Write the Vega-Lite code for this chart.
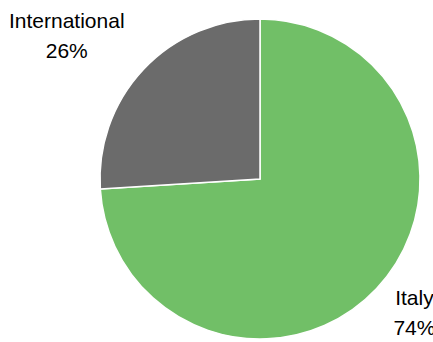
{
  "$schema": "https://vega.github.io/schema/vega-lite/v6.json",
  "width": 346,
  "height": 326,
  "autosize": {"type": "none"},
  "padding": {"left": 87, "top": 16, "right": 0, "bottom": 0},
  "background": "white",
  "view": {"stroke": null},
  "data": {"values": [
    {"market": "Italy", "share": 74},
    {"market": "International", "share": 26}
  ]},
  "transform": [
    {"calculate": "datum.market + '\\n' + datum.share + '%'", "as": "label"}
  ],
  "encoding": {
    "theta": {"field": "share", "type": "quantitative", "stack": true},
    "order": {"field": "share", "type": "quantitative", "sort": "descending"}
  },
  "layer": [
    {
      "mark": {"type": "arc", "outerRadius": 160, "stroke": "white", "strokeWidth": 1.5},
      "encoding": {
        "color": {"field": "market", "type": "nominal",
          "scale": {"domain": ["Italy", "International"], "range": ["#71BF67", "#6B6B6B"]},
          "legend": null}
      }
    },
    {
      "mark": {"type": "text", "radius": 239, "dx": -19, "dy": 6.5, "lineBreak": "\n",
        "font": "Liberation Sans, Arial, sans-serif",
        "fontSize": 21, "lineHeight": 30, "color": "#000000", "align": "center", "baseline": "middle"},
      "encoding": {
        "text": {"condition": {"test": "datum.market === 'International'", "field": "label"}, "value": ""}
      }
    },
    {
      "mark": {"type": "text", "radius": 205, "dx": 5, "dy": -20, "lineBreak": "\n",
        "font": "Liberation Sans, Arial, sans-serif",
        "fontSize": 21, "lineHeight": 30, "color": "#000000", "align": "center", "baseline": "middle"},
      "encoding": {
        "text": {"condition": {"test": "datum.market === 'Italy'", "field": "label"}, "value": ""}
      }
    }
  ]
}
